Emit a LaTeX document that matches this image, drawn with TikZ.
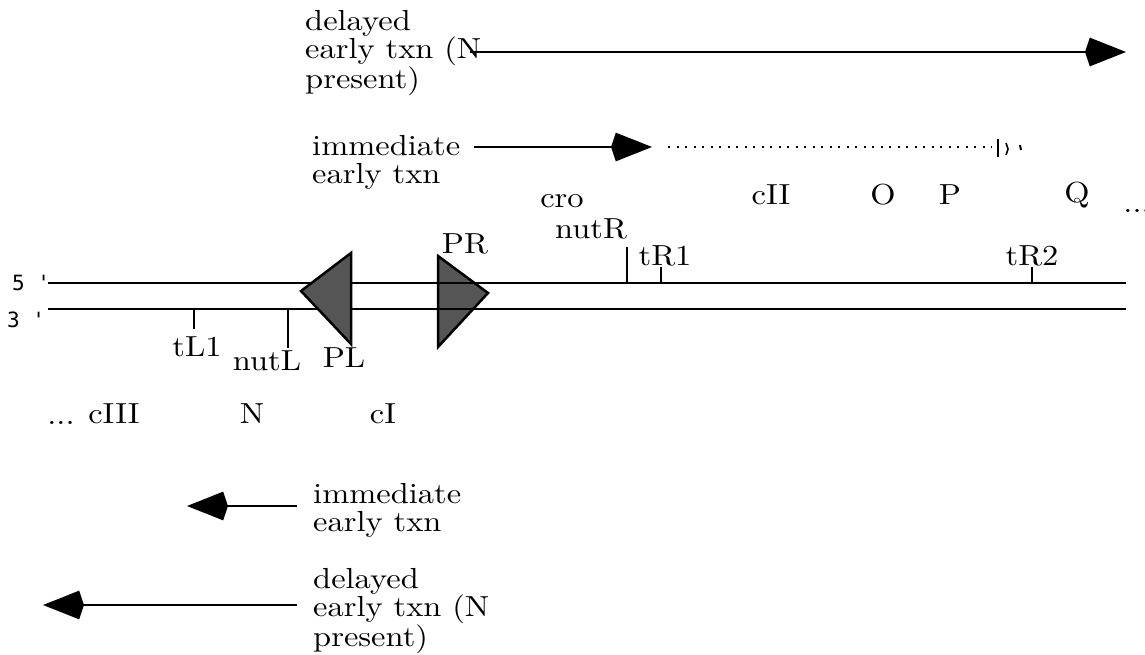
\documentclass[tikz,border=0pt]{standalone}
\usepackage{fontspec}
\setmainfont{lmroman10-regular.otf}
\newfontfamily\strandfont{DejaVu Sans Mono}
\usetikzlibrary{arrows.meta}
\definecolor{promgray}{HTML}{555555}
\begin{document}
\begin{tikzpicture}[x=1pt,y=-1pt,
  lbl/.style={font=\fontsize{29}{28}\selectfont, inner sep=0pt, xscale=1.12, transform shape},
  blk/.style={lbl, align=left, anchor=north west},
  endlbl/.style={font=\strandfont\fontsize{21}{21}\selectfont, inner sep=0pt},
  strand/.style={line width=2pt},
  tickline/.style={line width=2pt},
  txn/.style={line width=2pt, -{Stealth[length=36pt,width=28pt,inset=-5pt]}},
  prom/.style={draw, line width=2.5pt, fill=promgray, line join=miter}]
\useasboundingbox (0,0) rectangle (1145,655);

% PR promoter (behind strands)
\draw[prom] (438,256) -- (488,293) -- (438,347) -- cycle;

% strands
\coordinate (s5a) at (48,283); \coordinate (s5b) at (1126,283);
\coordinate (s3a) at (48,309); \coordinate (s3b) at (1126,309);
\draw[strand] (s5a) -- (s5b);
\draw[strand] (s3a) -- (s3b);
\node[endlbl] (l5) at (31,283) {5 '};
\node[endlbl] (l3) at (26,320) {3 '};

% PL promoter (in front of strands)
\draw[prom] (351,253) -- (301,291) -- (351,344) -- cycle;

% ticks
\coordinate (tl1a) at (194,309); \coordinate (tl1b) at (194,329);
\coordinate (nla) at (288,309); \coordinate (nlb) at (288,348);
\coordinate (nra) at (627,283); \coordinate (nrb) at (627,247);
\coordinate (tr1a) at (661,283); \coordinate (tr1b) at (661,267);
\coordinate (tr2a) at (1032,283); \coordinate (tr2b) at (1032,267);
\draw[tickline] (tl1a) -- (tl1b);
\draw[tickline] (nla) -- (nlb);
\draw[tickline] (nra) -- (nrb);
\draw[tickline] (tr1a) -- (tr1b);
\draw[tickline] (tr2a) -- (tr2b);

% site / gene labels
\node[lbl] (tL1) at (197,347) {tL1};
\node[lbl] (nutL) at (267,361) {nutL};
\node[lbl] (PL) at (344,358) {PL};
\node[lbl] (PR) at (465,244) {PR};
\node[lbl] (cro) at (562,201) {cro};
\node[lbl] (nutR) at (591,229) {nutR};
\node[lbl] (tR1) at (665,256) {tR1};
\node[lbl] (tR2) at (1032,256) {tR2};
\node[lbl] (cII) at (771,195) {cII};
\node[lbl] (O) at (883,195) {O};
\node[lbl] (P) at (950,195) {P};
\node[lbl] (Q) at (1077,195) {Q};
\node[lbl, anchor=base] (dotsR) at (1137,212) {...};
\node[lbl, anchor=base] (dotsL) at (61,424) {...};
\node[lbl] (cIII) at (114,414) {cIII};
\node[lbl] (N) at (252,414) {N};
\node[lbl] (cI) at (383,414) {cI};

% rightward transcripts
\node[blk] (delR) at (305,10) {delayed\\early txn (N\\present)};
\coordinate (delRs) at (470,52); \coordinate (delRe) at (1126,52);
\draw[txn] (delRs) -- (delRe);

\node[blk] (immR) at (312,135) {immediate\\early txn};
\coordinate (immRs) at (474,147); \coordinate (immRe) at (652,147);
\draw[txn] (immRs) -- (immRe);
\coordinate (dotS) at (668,147); \coordinate (dotE) at (992,147);
\draw[line width=2pt, dash pattern=on 2pt off 6.5pt] (dotS) -- (dotE);
\draw[line width=2pt] (998,139) -- (998,157);
\draw[line width=1.6pt] (1006,143) -- (1008,149) -- (1006,155);
\draw[line width=2pt] (1020,145) -- (1021,150);

% leftward transcripts
\node[blk] (immL) at (313,483) {immediate\\early txn};
\coordinate (immLs) at (297,506); \coordinate (immLe) at (187,506);
\draw[txn] (immLs) -- (immLe);

\node[blk] (delL) at (313,568) {delayed\\early txn (N\\present)};
\coordinate (delLs) at (297,605); \coordinate (delLe) at (43,605);
\draw[txn] (delLs) -- (delLe);
\end{tikzpicture}
\end{document}
